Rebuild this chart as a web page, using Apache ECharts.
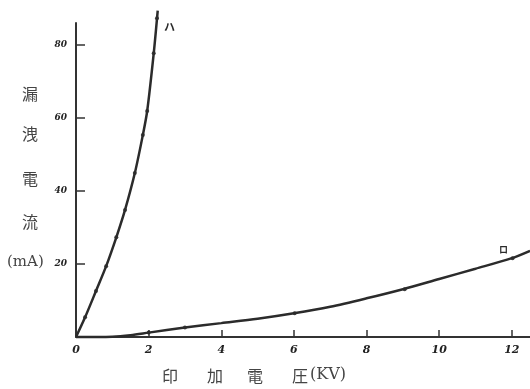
<!DOCTYPE html>
<html>
<head>
<meta charset="utf-8">
<script src="https://cdn.jsdelivr.net/npm/echarts@6/dist/echarts.min.js"></script>
<style>
  html, body { margin: 0; padding: 0; background: #fff; }
  #chart { width: 530px; height: 389px; }
</style>
</head>
<body>
<div id="chart"></div>
<script>
// Leakage current (mA) against applied voltage (kV) for two specimens.
const xTicks = [0, 2, 4, 6, 8, 10, 12];
const yTicks = [20, 40, 60, 80];

// Curve ハ: drawn trace and measured points
const haCurve = [[0, 0], [0.25, 5.4], [0.55, 12.6], [0.83, 19.4], [1.11, 27.3], [1.35, 34.8],
  [1.62, 44.9], [1.84, 55.3], [1.96, 61.9], [2.14, 77.7], [2.25, 89.4]];
const haPoints = [[0.25, 5.4], [0.55, 12.6], [0.83, 19.4], [1.11, 27.3], [1.35, 34.8],
  [1.62, 44.9], [1.84, 55.3], [1.96, 61.9], [2.14, 77.7], [2.23, 87.3]];

// Curve ロ: drawn trace and measured points
const roCurve = [[0, 0], [1, 0.1], [1.5, 0.5], [2, 1.2], [3, 2.6], [4, 3.8], [5, 5.0], [6, 6.5],
  [7, 8.3], [8, 10.6], [9, 13.1], [10, 15.9], [11, 18.7], [12, 21.6], [12.5, 23.6]];
const roPoints = [[2, 1.2], [3.0, 2.6], [6.02, 6.5], [9.05, 13.1], [12.02, 21.6]];

const ink = '#2b2b2b';
const serif = '"DejaVu Serif", "Liberation Serif", serif';
const cjk = '"Noto Sans CJK JP", sans-serif';

const chart = echarts.init(document.getElementById('chart'), null, { renderer: 'canvas' });

const yTitle = ['漏', '洩', '電', '流'];
const yTitleTop = [86, 126, 171, 214];
const xTitle = ['印', '加', '電', '圧'];
const xTitleLeft = [162, 207, 247, 292];

const graphics = [];
yTitle.forEach((ch, i) => graphics.push({
  type: 'text', left: 22, top: yTitleTop[i],
  style: { text: ch, font: '16px ' + cjk, fill: '#444' }
}));
graphics.push({ type: 'text', left: 7, top: 255,
  style: { text: '(mA)', font: '15px ' + serif, fill: '#444' } });
xTitle.forEach((ch, i) => graphics.push({
  type: 'text', left: xTitleLeft[i], top: 368,
  style: { text: ch, font: '16px ' + cjk, fill: '#444' }
}));
graphics.push({ type: 'text', left: 310, top: 367,
  style: { text: '(KV)', font: '16px ' + serif, fill: '#444' } });
graphics.push({ type: 'text', left: 164, top: 21,
  style: { text: 'ハ', font: 'bold 11px ' + cjk, fill: ink } });
graphics.push({ type: 'text', left: 499, top: 245,
  style: { text: 'ロ', font: 'bold 9px ' + cjk, fill: ink } });

chart.setOption({
  animation: false,
  backgroundColor: '#fff',
  grid: { left: 76, right: 0, top: 23, bottom: 52 },
  xAxis: {
    type: 'value', min: 0, max: 12.5,
    splitLine: { show: false },
    axisLine: { lineStyle: { color: '#333', width: 2 } },
    axisTick: { inside: true, length: 7, customValues: xTicks, lineStyle: { color: '#333', width: 1.5 } },
    axisLabel: { customValues: xTicks, margin: 8, color: '#222',
      fontFamily: serif, fontStyle: 'italic', fontWeight: 'bold', fontSize: 11 }
  },
  yAxis: {
    type: 'value', min: 0, max: 86,
    splitLine: { show: false },
    axisLine: { lineStyle: { color: '#333', width: 2 } },
    axisTick: { inside: true, length: 9, customValues: yTicks, lineStyle: { color: '#333', width: 1.5 } },
    axisLabel: { customValues: yTicks, margin: 9, color: '#222',
      fontFamily: serif, fontStyle: 'italic', fontWeight: 'bold', fontSize: 9 }
  },
  series: [
    { type: 'line', data: haCurve, smooth: 0.3, clip: false, showSymbol: false,
      lineStyle: { color: ink, width: 2.5 } },
    { type: 'scatter', data: haPoints, clip: false, symbolSize: 4,
      itemStyle: { color: '#111' } },
    { type: 'line', data: roCurve, smooth: 0.3, clip: false, showSymbol: false,
      lineStyle: { color: ink, width: 2.5 } },
    { type: 'scatter', data: roPoints, clip: false, symbolSize: 4,
      itemStyle: { color: '#111' } }
  ],
  graphic: graphics
});
</script>
</body>
</html>
